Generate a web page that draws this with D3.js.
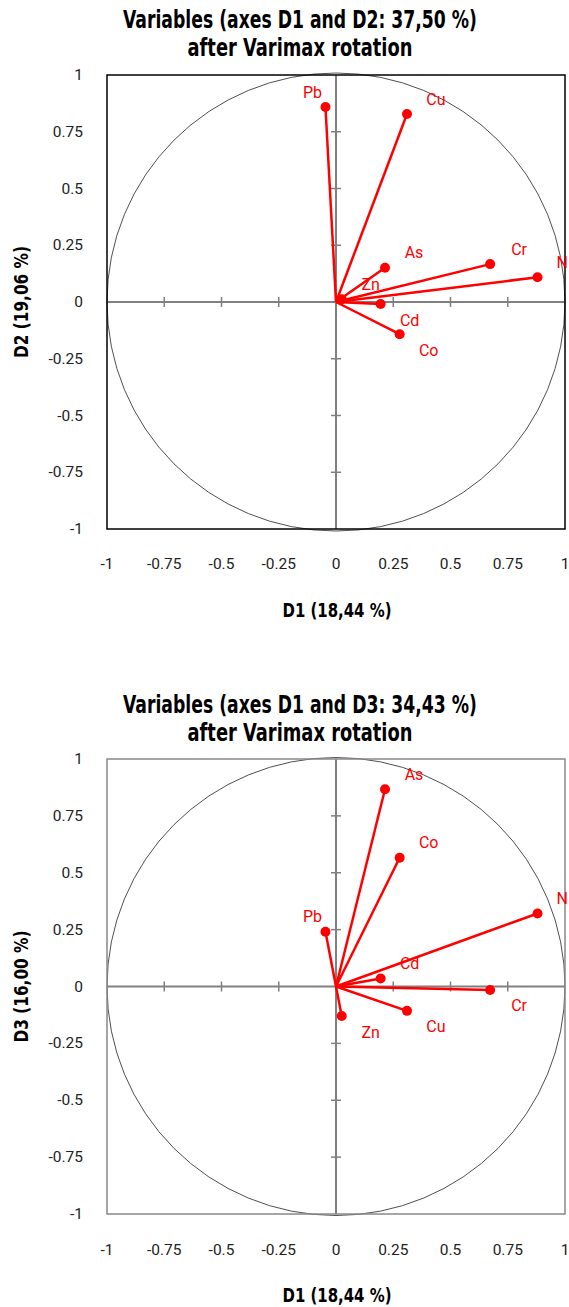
<!DOCTYPE html>
<html><head><meta charset="utf-8">
<script src="https://cdn.jsdelivr.net/npm/d3@7"></script>
<style>html,body{margin:0;padding:0;background:#fff;}svg{display:block;}</style>
</head><body>
<svg id="chart" width="569" height="1307"></svg>
<script>
// ---- data ----
const variables = ["Pb","Cu","As","Cr","N","Cd","Co","Zn"];
const dimD1 = [-0.046, 0.310, 0.214, 0.673, 0.880, 0.195, 0.278, 0.025];
const dimD2 = [ 0.859, 0.828, 0.151, 0.167, 0.109, -0.009, -0.142, 0.012];
const dimD3 = [ 0.241, -0.107, 0.867, -0.015, 0.321, 0.035, 0.566, -0.130];
const tickValues = [-1,-0.75,-0.5,-0.25,0,0.25,0.5,0.75,1];
const tickLabels = ["-1","-0.75","-0.5","-0.25","0","0.25","0.5","0.75","1"];
const charts = [
  {title1:"Variables (axes D1 and D2: 37,50 %)", title2:"after Varimax rotation",
   xTitle:"D1 (18,44 %)", yTitle:"D2 (19,06 %)", xs:dimD1, ys:dimD2},
  {title1:"Variables (axes D1 and D3: 34,43 %)", title2:"after Varimax rotation",
   xTitle:"D1 (18,44 %)", yTitle:"D3 (16,00 %)", xs:dimD1, ys:dimD3}
];

// ---- layout ----
const layouts = [
  {top:75, bottom:529, titleY:[28,56], xTickY:564, xTitleY:617, border:"#000"},
  {top:759, bottom:1214, titleY:[713,741], xTickY:1250, xTitleY:1302, border:"#888"}
];
const left = 107, right = 565, W = 569;
const svg = d3.select("#chart");
const titleFont = "'DejaVu Sans Condensed','DejaVu Sans','Liberation Sans',sans-serif";
const tickFont = "Roboto, 'Liberation Sans', sans-serif";

// condensed bold text fitted to a target width via horizontal scaling
function fitText(sel, txt, cx, cy, targetW, size, rotate) {
  const t = sel.append("text").attr("text-anchor","middle")
    .attr("font-family",titleFont).attr("font-weight","bold").attr("font-size",size).text(txt);
  const w = t.node().getComputedTextLength();
  const s = Math.min(1, targetW / w);
  t.attr("transform", `translate(${cx},${cy})${rotate ? " rotate(-90)" : ""} scale(${s},1)`);
  return t;
}

charts.forEach((c, i) => {
  const L = layouts[i];
  const x = d3.scaleLinear().domain([-1,1]).range([left,right]);
  const y = d3.scaleLinear().domain([-1,1]).range([L.bottom,L.top]);
  const g = svg.append("g");

  // titles
  fitText(g, c.title1, 300, L.titleY[0], 354, 24, false);
  fitText(g, c.title2, 300, L.titleY[1], 225, 24, false);

  // circle
  g.append("circle").attr("cx",x(0)).attr("cy",y(0)).attr("r",x(1)-x(0))
    .attr("fill","none").attr("stroke","#222").attr("stroke-width",0.8);

  // axis lines through origin
  g.append("line").attr("x1",x(-1)).attr("x2",x(1)).attr("y1",y(0)).attr("y2",y(0))
    .attr("stroke","#808080").attr("stroke-width",2);
  g.append("line").attr("x1",x(0)).attr("x2",x(0)).attr("y1",y(-1)).attr("y2",y(1))
    .attr("stroke","#808080").attr("stroke-width",2);
  // tick marks
  const inner = tickValues.filter(v => v !== 0 && Math.abs(v) !== 1);
  g.selectAll(".tx").data(inner).enter().append("line")
    .attr("x1",d=>x(d)).attr("x2",d=>x(d)).attr("y1",y(0)-5).attr("y2",y(0)+5)
    .attr("stroke","#808080").attr("stroke-width",1.5);
  g.selectAll(".ty").data(inner).enter().append("line")
    .attr("y1",d=>y(d)).attr("y2",d=>y(d)).attr("x1",x(0)-5).attr("x2",x(0)+5)
    .attr("stroke","#808080").attr("stroke-width",1.5);

  // border
  g.append("rect").attr("x",left).attr("y",L.top).attr("width",right-left).attr("height",L.bottom-L.top)
    .attr("fill","none").attr("stroke",L.border).attr("stroke-width",1.5);

  // tick labels
  g.selectAll(".xl").data(tickValues).enter().append("text")
    .attr("x",d=>x(d)).attr("y",L.xTickY).attr("text-anchor","middle").attr("dominant-baseline","central")
    .attr("font-family",tickFont).attr("font-size",15.5).attr("fill","#222")
    .text((d,k)=>tickLabels[k]);
  g.selectAll(".yl").data(tickValues).enter().append("text")
    .attr("x",83).attr("y",d=>y(d)).attr("text-anchor","end").attr("dominant-baseline","central")
    .attr("font-family",tickFont).attr("font-size",15.5).attr("fill","#222")
    .text((d,k)=>tickLabels[k]);

  // axis titles
  fitText(g, c.xTitle, 337, L.xTitleY, 109, 20, false);
  fitText(g, c.yTitle, 28, y(0), 112, 20, true);

  // vectors
  const pts = variables.map((v,k)=>({name:v, vx:c.xs[k], vy:c.ys[k]}));
  g.selectAll(".vec").data(pts).enter().append("line")
    .attr("x1",x(0)).attr("y1",y(0)).attr("x2",d=>x(d.vx)).attr("y2",d=>y(d.vy))
    .attr("stroke","#ff0000").attr("stroke-width",2.5);
  g.selectAll(".pt").data(pts).enter().append("circle")
    .attr("cx",d=>x(d.vx)).attr("cy",d=>y(d.vy)).attr("r",5).attr("fill","#ff0000");
  g.selectAll(".lab").data(pts).enter().append("text")
    .attr("x",d=>x(d.vx) + (d.vx >= 0 ? 29 : -13))
    .attr("y",d=>y(d.vy) + (d.vy >= 0 ? -15 : 16))
    .attr("text-anchor","middle").attr("dominant-baseline","central")
    .attr("font-family",tickFont).attr("font-size",16).attr("fill","#ff0000")
    .text(d=>d.name)
    .each(function(){
      // keep label inside the page
      const w = this.getComputedTextLength();
      const cx = +this.getAttribute("x");
      if (cx + w/2 > W - 1) this.setAttribute("x", W - 1 - w/2);
    });
});
</script>
</body></html>
